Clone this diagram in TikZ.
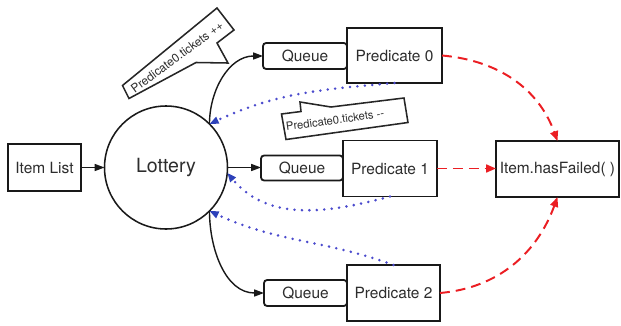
\documentclass[tikz,border=0pt]{standalone}
\usepackage{fontspec}
\setmainfont{TeX Gyre Heros}
\usetikzlibrary{arrows.meta}
\definecolor{dotblue}{RGB}{75,75,205}
\definecolor{tipblue}{RGB}{45,65,185}
\definecolor{dashred}{RGB}{235,30,35}
\definecolor{txt}{RGB}{45,45,45}
\newcommand{\pxu}{0.025cm}
\tikzset{
  box/.style={draw=black!90, line width=1.3pt, inner sep=0pt, outer sep=0pt, fill=white,
    text=txt, font=\fontsize{11}{13}\selectfont},
  qbox/.style={box, rounded corners=2.2pt},
  blk/.style={draw=black!90, line width=1pt, -{Triangle[length=7pt,width=5pt]}},
  dotb/.style={draw=dotblue, line width=2pt, line cap=round, dash pattern=on 0pt off 5.3pt,
    -{Triangle[length=6.5pt,width=5pt,color=tipblue]}},
  dashr/.style={draw=dashred, line width=1.4pt, dash pattern=on 7pt off 4.3pt,
    -{Triangle[length=7pt,width=5.6pt]}},
  callout/.style={draw=black!85, line width=1.1pt, fill=white, line join=miter},
  ctext/.style={text=txt, inner sep=0pt}
}
\begin{document}
\begin{tikzpicture}[x=0.025cm,y=0.025cm]
\useasboundingbox (0,0) rectangle (621,325);

% nodes
\node[box, minimum width=73*\pxu, minimum height=47*\pxu] (items) at (44.5,157.5) {Item List};
\node[circle, draw=black!90, line width=1.1pt, minimum size=123*\pxu, inner sep=0pt, outer sep=0pt,
  text=txt, font=\fontsize{13.9}{16}\selectfont] (lot) at (166,157.5) {Lottery};

\node[qbox, minimum width=84*\pxu, minimum height=26*\pxu] (q0) at (305,269) {Queue};
\node[box, minimum width=95*\pxu, minimum height=55*\pxu] (p0) at (394.5,269.5) {Predicate 0};

\node[qbox, minimum width=82*\pxu, minimum height=25*\pxu] (q1) at (302,157) {Queue};
\node[box, minimum width=94*\pxu, minimum height=56*\pxu] (p1) at (390,156.5) {Predicate 1};

\node[qbox, minimum width=83*\pxu, minimum height=26*\pxu] (q2) at (305.5,32) {Queue};
\node[box, minimum width=93*\pxu, minimum height=56*\pxu] (p2) at (393.5,32) {Predicate 2};

\node[box, minimum width=123*\pxu, minimum height=56*\pxu] (hf) at (557.5,156) {Item.hasFailed( )};

% callouts
\draw[callout] (217,317) -- (234,295) -- (217,282) -- (228,262) -- (196,262.5)
  -- (129,226.5) -- (122.5,239.5) -- cycle;
\node[ctext, rotate=36.5, font=\fontsize{8.5}{9}\selectfont] (t1) at (177,268) {Predicate0.tickets {+}{+}};

\draw[callout] (281.5,211) -- (301,213.5) -- (300,223) -- (331,218) -- (404,227)
  -- (408,202.5) -- (286,185.5) -- cycle;
\node[ctext, rotate=8, font=\fontsize{8}{9}\selectfont] (t2) at (335,205) {Predicate0.tickets {-}{-}};

% black arrows
\draw[blk] (items.east) -- (items.east -| lot.west);
\draw[blk] (lot.45) to[out=90,in=180] (q0.west);
\draw[blk] (lot.east) -- (lot.east -| q1.west);
\draw[blk] (lot.-45) to[out=-90,in=180] (q2.west);

% blue dotted feedback
\draw[dotb] (p0.south) to[out=185,in=25] (lot.45);
\draw[dotb] (p1.south) to[out=195,in=-50] (lot.-5);
\draw[dotb] (p2.north) to[out=160,in=-25] (lot.-45);

% red dashed
\draw[dashr] (p0.east) to[out=-5,in=110] (hf.north);
\draw[dashr] (p1.east) -- (p1.east -| hf.west);
\draw[dashr] (p2.east) to[out=5,in=-110] (hf.south);
\end{tikzpicture}
\end{document}
